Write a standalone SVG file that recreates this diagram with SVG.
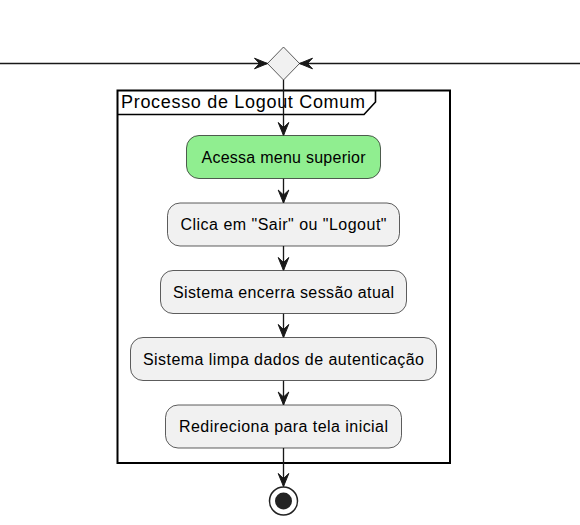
<svg xmlns="http://www.w3.org/2000/svg" width="580" height="525" viewBox="0 0 580 525">
<style>
  .act { fill: #F1F1F1; stroke: #181818; stroke-width: 0.7; }
  .start { fill: #90EE90; }
  .lbl { font-family: "Liberation Sans", Arial, sans-serif; font-size: 16px; fill: #000; text-anchor: middle; }
  .ttl { font-family: "Liberation Sans", Arial, sans-serif; font-size: 18px; fill: #000; }
  .edge { fill: none; stroke: #181818; stroke-width: 1.33; }
</style>
<defs>
  <marker id="ah" markerUnits="userSpaceOnUse" markerWidth="14" markerHeight="12" refX="13" refY="6" orient="auto" overflow="visible">
    <path d="M13,6 L0,0.7 L5,6 L0,11.3 Z" fill="#181818" stroke="#181818" stroke-width="1"/>
  </marker>
</defs>
<rect x="0" y="0" width="580" height="525" fill="#FFFFFF"/>
<g id="frame">
  <rect x="117.5" y="90.5" width="332.5" height="372.5" fill="none" stroke="#000" stroke-width="2"/>
  <path d="M117.5,114.5 H364 L375.5,102 V90.5" fill="none" stroke="#000" stroke-width="1.6"/>
  <text class="ttl" x="121" y="108" textLength="244" lengthAdjust="spacing">Processo de Logout Comum</text>
</g>
<g id="merge">
  <polygon points="283.5,47 299.5,63.5 283.5,80 267.5,63.5" class="act"/>
</g>
<g id="connectors">
  <path class="edge" d="M0,63.5 H267.5" marker-end="url(#ah)"/>
  <path class="edge" d="M580,63.5 H299.5" marker-end="url(#ah)"/>
  <path class="edge" d="M283.5,80 V135.5" marker-end="url(#ah)"/>
  <path class="edge" d="M283.5,178.5 V203" marker-end="url(#ah)"/>
  <path class="edge" d="M283.5,246 V270.5" marker-end="url(#ah)"/>
  <path class="edge" d="M283.5,313.5 V337.5" marker-end="url(#ah)"/>
  <path class="edge" d="M283.5,380.5 V405" marker-end="url(#ah)"/>
  <path class="edge" d="M283.5,448 V486.5" marker-end="url(#ah)"/>
</g>
<g id="n1">
  <rect class="act start" x="186.5" y="135.5" width="194" height="43" rx="12.5"/>
  <text class="lbl" x="283.5" y="162.5" textLength="164" lengthAdjust="spacing">Acessa menu superior</text>
</g>
<g id="n2">
  <rect class="act" x="167.5" y="203" width="232" height="43" rx="12.5"/>
  <text class="lbl" x="283.5" y="230" textLength="206" lengthAdjust="spacing">Clica em "Sair" ou "Logout"</text>
</g>
<g id="n3">
  <rect class="act" x="160.5" y="270.5" width="246" height="43" rx="12.5"/>
  <text class="lbl" x="283.5" y="297.5" textLength="221" lengthAdjust="spacing">Sistema encerra sessão atual</text>
</g>
<g id="n4">
  <rect class="act" x="130.5" y="337.5" width="306" height="43" rx="12.5"/>
  <text class="lbl" x="283.5" y="364.5" textLength="281" lengthAdjust="spacing">Sistema limpa dados de autenticação</text>
</g>
<g id="n5">
  <rect class="act" x="165.5" y="405" width="236" height="43" rx="12.5"/>
  <text class="lbl" x="283.5" y="432" textLength="209" lengthAdjust="spacing">Redireciona para tela inicial</text>
</g>
<g id="end">
  <circle cx="283.5" cy="501" r="14" fill="#FFFFFF" stroke="#222222" stroke-width="1.5"/>
  <circle cx="283.5" cy="501" r="8.5" fill="#222222"/>
</g>
</svg>
